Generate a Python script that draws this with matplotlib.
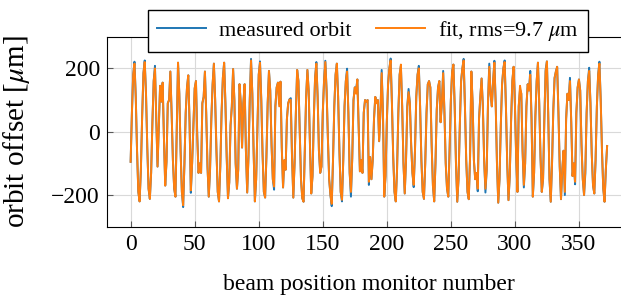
import numpy as np
import matplotlib.pyplot as plt

plt.rcParams['font.family'] = ['Liberation Serif', 'DejaVu Serif']
plt.rcParams['mathtext.fontset'] = 'stix'

# fitted orbit per BPM [um]
fit = [
    -95, 60, 180, 215, 110, -60, -190, -220, -120, 50,
    185, 220, 120, -50, -180, -212, -130, 30, 160, 200,
    40, -110, 20, 145, 95, 155, -20, -170, -95, 90,
    100, 190, 60, -90, -180, -205, 10, 218, 120, -60,
    -190, -232, -100, 60, 140, 178, 30, -185, -100, 20,
    137, 160, -20, -130, -100, -130, 90, 110, 190, 60,
    -110, -205, -120, 40, 150, 215, 100, -60, -190, -220,
    -110, 60, 170, 218, 90, -80, -210, -160, 20, 80,
    198, 100, -100, -180, -120, 150, 90, -50, 90, 150,
    -60, -192, -80, 100, 225, 120, -60, -220, -150, 20,
    180, 218, 100, -70, -190, -208, -80, 90, 192, 130,
    -40, -150, -173, 80, 140, 155, 80, 158, -50, -176,
    -90, -120, 40, 90, 102, 100, -80, -208, -100, 60,
    195, 160, 10, -150, -210, -221, -60, 110, 195, 130,
    -40, -195, -140, 40, 170, 215, 110, -60, -130, -110,
    60, 160, 220, 130, -20, -150, -200, -228, -90, 80,
    180, 215, 110, -60, -190, -215, -90, 80, 160, 190,
    60, -130, -190, -85, 100, 140, 120, 165, 20, -125,
    -90, -130, 60, 100, 95, 100, -158, -80, -150, -90,
    40, 110, 90, 100, -30, 60, 185, 60, -205, -140,
    30, 150, 200, 225, 90, -80, -190, -220, -120, 60,
    180, 212, 80, -100, -195, -90, 80, 125, 90, -40,
    -130, -168, -60, 110, 180, 200, 80, -90, -190, -212,
    -100, 60, 150, 160, 140, -40, -170, -220, -100, 70,
    140, 160, 30, 90, 185, 60, -100, -180, -205, -60,
    100, 190, 212, 80, -100, -221, -150, 20, 160, 200,
    225, 80, -90, -190, -213, -80, 190, 90, -90, -150,
    -130, -180, 40, 110, 168, 80, -90, -180, -120, 90,
    205, 120, 80, 160, 218, 90, -100, -224, -150, 20,
    150, 200, 220, 80, -100, -216, -140, 30, 160, 205,
    90, -80, -190, 80, 145, 120, -60, -168, -100, 80,
    150, 130, 180, 40, -205, -130, 50, 160, 218, 90,
    -80, -190, -150, 40, 190, 222, 60, -150, -221, -100,
    70, 170, 190, 205, 60, -110, -213, -120, -60, -190,
    40, 120, 100, 160, 30, -140, -100, -158, 60, 140,
    165, 130, -40, -150, -200, -120, 60, 160, 192, 90,
    -70, -170, -195, -90, 80, 180, 215, 100, -60, -180,
    -221, -120, -45,
]

# BPMs where the measurement visibly departs from the fit, and by how much
dev_idx = [3, 11, 19, 41, 47, 52, 94, 101, 112, 116, 125, 145, 152, 157,
           165, 169, 172, 176, 186, 196, 203, 211, 217, 221, 225, 244, 260,
           271, 277, 280, 284, 292, 304, 307, 312, 324, 339, 343, 347, 355,
           358, 366]
dev_val = [6, 5, 8, -6, -8, 12, 5, 4, -10, 8, 6, 5, 4, -7,
           -5, 9, -15, 12, -10, 10, 6, -5, 10, -7, 8, 7, 5,
           -8, -12, 10, 6, 5, -12, -8, 12, 6, -10, 10, -8, -12,
           10, 6]

bpm = np.arange(len(fit))
measured = np.array(fit, dtype=float)
measured[dev_idx] += dev_val

fig = plt.figure(figsize=(6.21, 2.96), dpi=100)
ax = fig.add_axes([0.172, 0.234, 0.844, 0.642])

ax.plot(bpm, measured, color='#1f77b4', lw=1.4, label='measured orbit')
ax.plot(bpm, fit, color='#ff7f0e', lw=1.4, label=r'fit, rms=9.7 $\mu$m')

ax.set_xlim(-18.6, 390.6)
ax.set_ylim(-300, 300)
ax.set_xticks(range(0, 351, 50))
ax.set_yticks([-200, 0, 200])
ax.grid(True, color='0.85', lw=0.8)
ax.set_axisbelow(True)
ax.tick_params(direction='in', length=4, color='0.35', labelsize=17, pad=5)
ax.spines['right'].set_visible(False)

ax.set_xlabel('beam position monitor number', fontsize=17, labelpad=14)
ax.set_ylabel(r'orbit offset [$\mu$m]', fontsize=21, labelpad=14)

leg = ax.legend(loc='center', bbox_to_anchor=(0.498, 1.03), ncol=2,
                fontsize=16, frameon=True, fancybox=False, framealpha=1,
                edgecolor='black', handlelength=2.2, columnspacing=1.1,
                borderpad=0.4, handletextpad=0.6)
leg.get_frame().set_linewidth(1.0)

fig.savefig('out.png', dpi=100)
